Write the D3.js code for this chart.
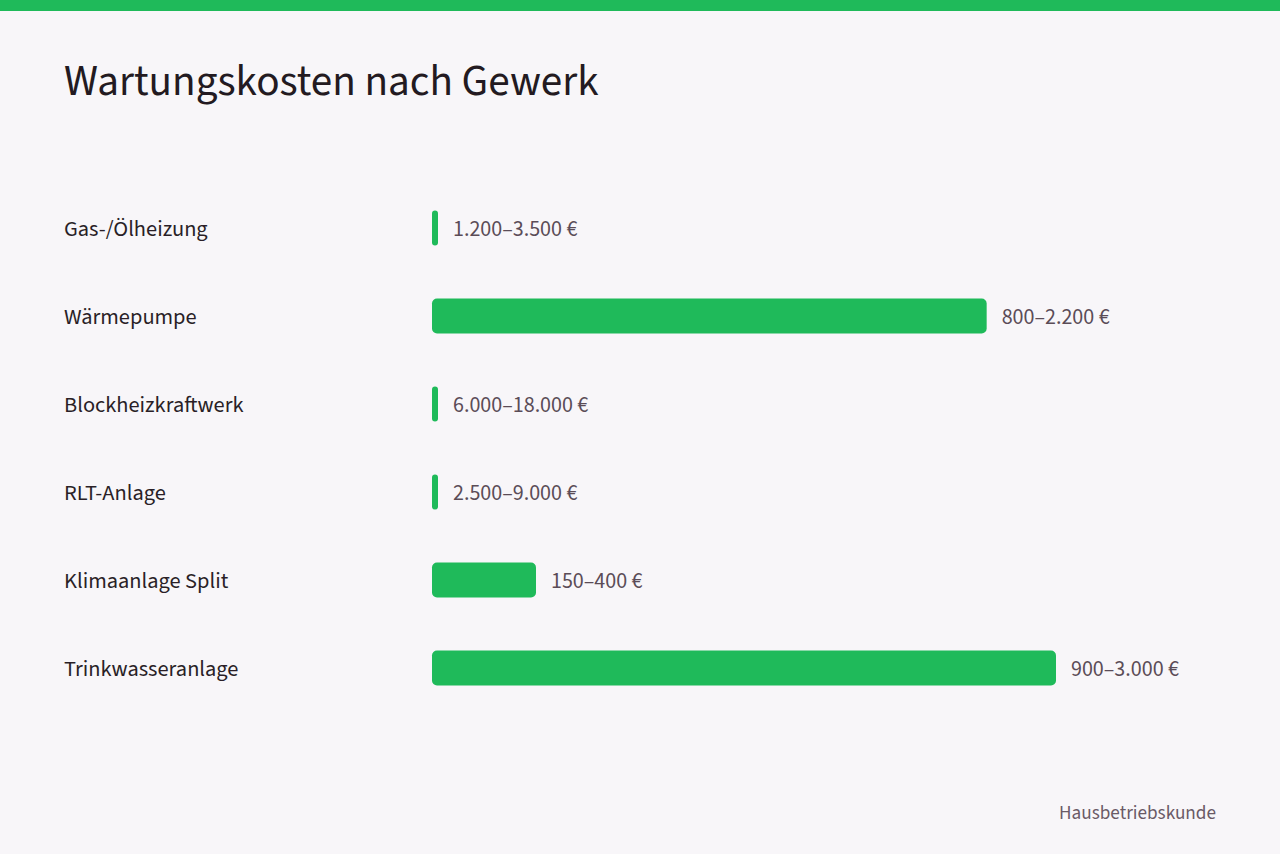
<!DOCTYPE html>
<html>
<head>
<meta charset="utf-8">
<script src="https://cdn.jsdelivr.net/npm/d3@7"></script>
<style>
  html, body { margin: 0; padding: 0; background: #f8f6f9; }
  svg { display: block; font-family: "Source Sans 3", "Source Sans Pro", Lato, sans-serif; }
</style>
</head>
<body>
<svg id="chart"></svg>
<script>
// categories and the printed ranges
const categories = ["Gas-/Ölheizung", "Wärmepumpe", "Blockheizkraftwerk", "RLT-Anlage", "Klimaanlage Split", "Trinkwasseranlage"]
const rangeLabels = ["1.200–3.500 €", "800–2.200 €", "6.000–18.000 €", "2.500–9.000 €", "150–400 €", "900–3.000 €"]
// bar lengths as drawn in the source (leading number of each range)
const barValues = [1.2, 800, 6, 2.5, 150, 900]

const width = 1280
const height = 854
const green = "#1fba5a"

const svg = d3.select("#chart")
    .attr("width", width)
    .attr("height", height)

svg.append("rect")
    .attr("width", width)
    .attr("height", height)
    .attr("fill", "#f8f6f9")

svg.append("rect")
    .attr("width", width)
    .attr("height", 11)
    .attr("fill", green)

svg.append("text")
    .attr("x", 64)
    .attr("y", 95)
    .attr("fill", "#231a21")
    .attr("font-size", 43.2)
    .text("Wartungskosten nach Gewerk")

const x = d3.scaleLinear()
    .domain([0, d3.max(barValues)])
    .range([432, 1056])

const y = d3.scaleBand()
    .domain(categories)
    .range([184, 712])
    .paddingInner(0.6)
    .paddingOuter(0.3)

const rows = svg.append("g")
    .selectAll("g")
    .data(categories.map((c, i) => ({ name: c, label: rangeLabels[i], value: barValues[i] })))
    .join("g")
    .attr("transform", d => `translate(0,${y(d.name) + y.bandwidth() / 2})`)

rows.append("text")
    .attr("x", 64)
    .attr("dy", "0.37em")
    .attr("fill", "#2a1f27")
    .attr("font-size", 22.4)
    .text(d => d.name)

const barW = d => Math.max(6, x(d.value) - x(0))

rows.append("rect")
    .attr("x", x(0))
    .attr("y", -17.5)
    .attr("height", 35)
    .attr("width", barW)
    .attr("rx", d => Math.min(5, barW(d) / 2))
    .attr("fill", green)

rows.append("text")
    .attr("x", d => x(0) + barW(d) + 15)
    .attr("dy", "0.38em")
    .attr("fill", "#5b4c57")
    .attr("font-size", 22)
    .text(d => d.label)

svg.append("text")
    .attr("x", 1216)
    .attr("y", 819)
    .attr("text-anchor", "end")
    .attr("fill", "#6a5a66")
    .attr("font-size", 19.2)
    .text("Hausbetriebskunde")
</script>
</body>
</html>
